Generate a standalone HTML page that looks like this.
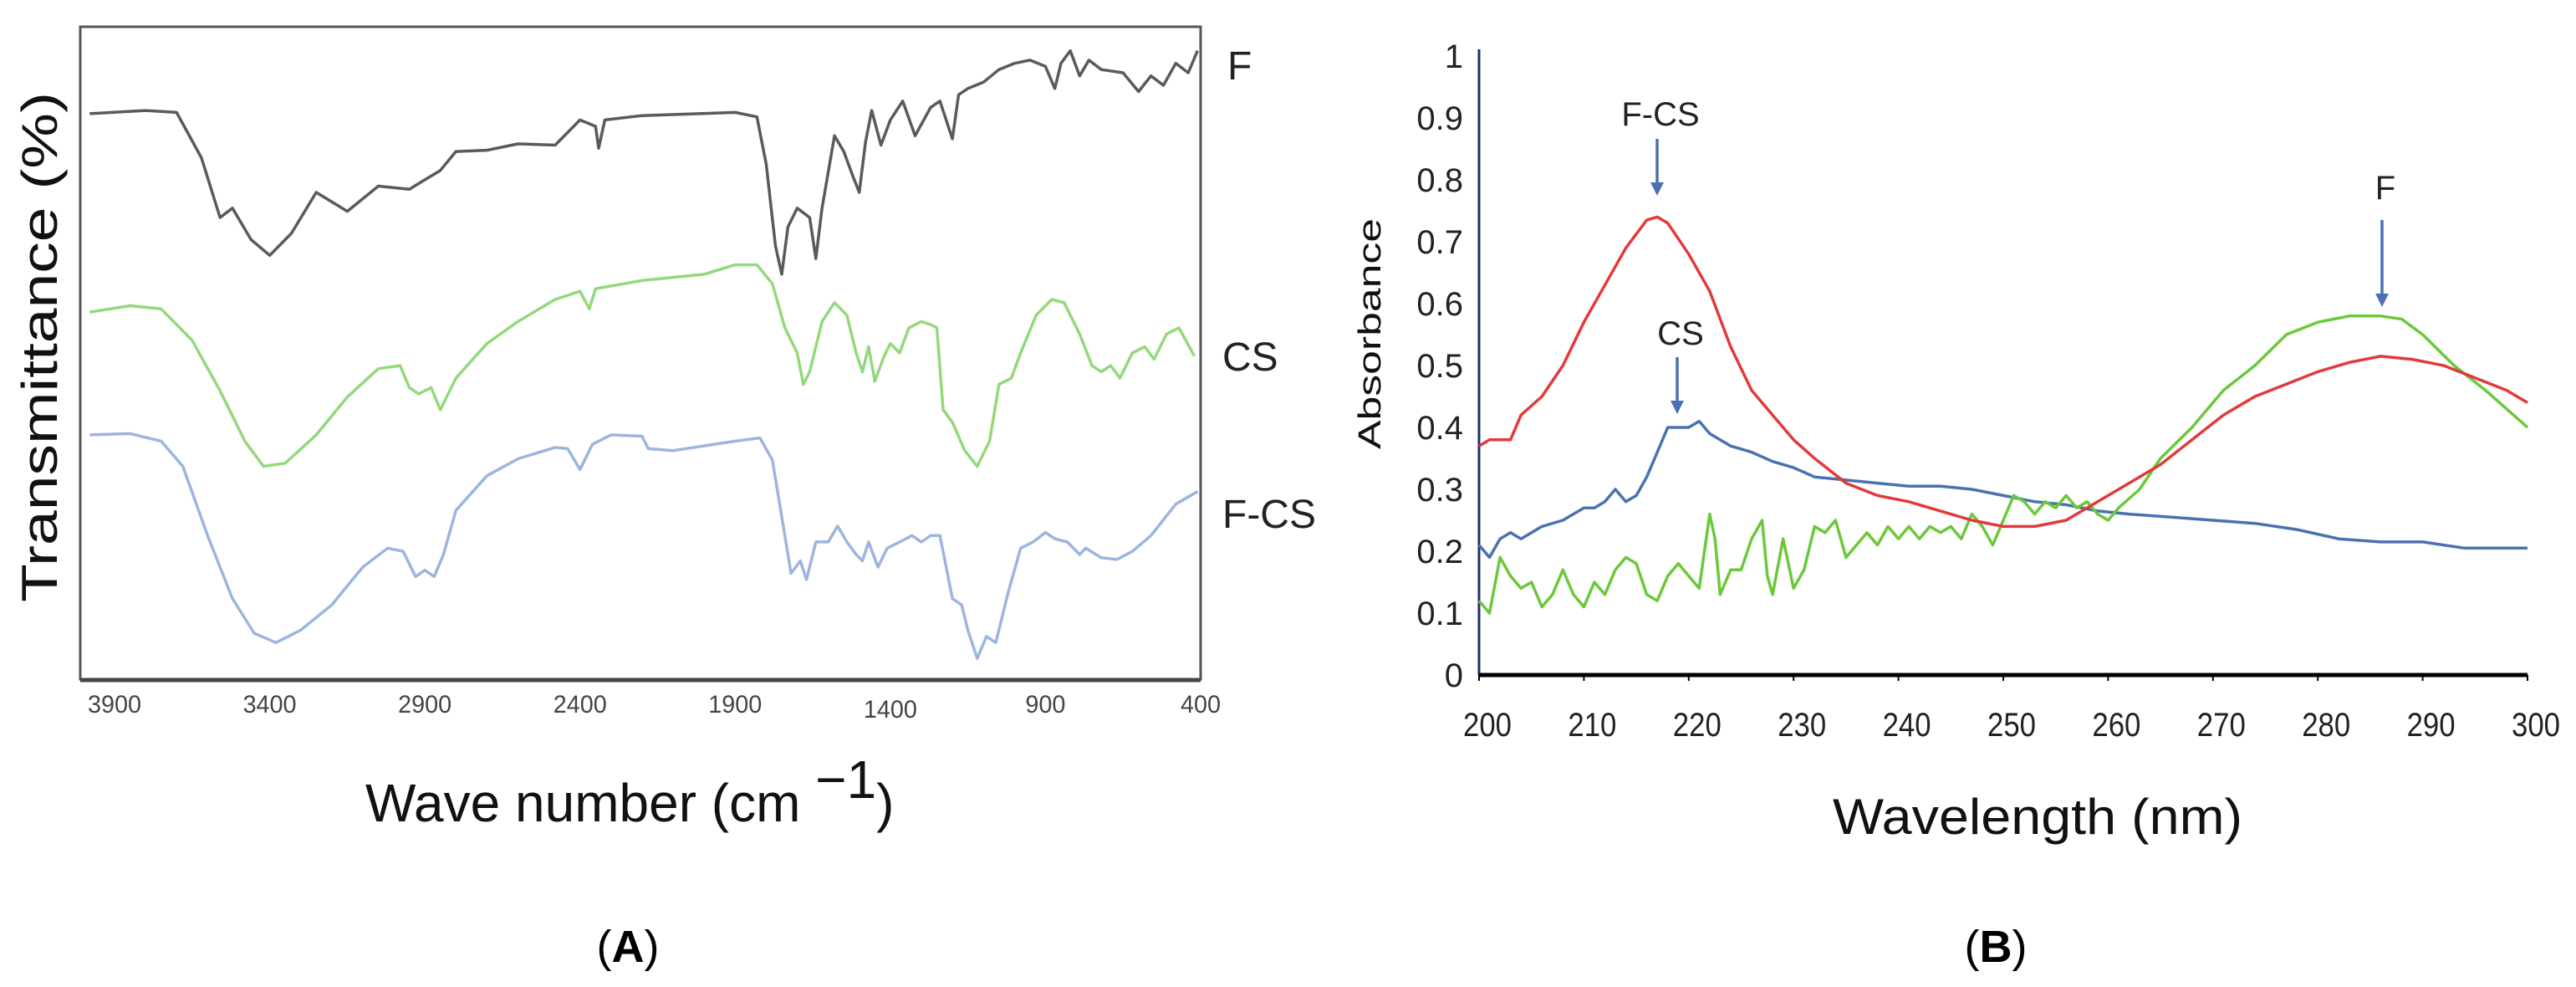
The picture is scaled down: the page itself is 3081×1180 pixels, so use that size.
<!DOCTYPE html>
<html><head><meta charset="utf-8"><style>
html,body{margin:0;padding:0;background:#fff;overflow:hidden}
svg{display:block}
text{font-family:"Liberation Sans Narrow","Liberation Sans",sans-serif}
</style></head><body>
<svg id="fig" width="3081" height="1180" viewBox="0 0 3081 1180" xmlns="http://www.w3.org/2000/svg">
<g id="pa"></g>
<g id="pb"></g>
</svg>
<script>
// ---------- Panel A data (FTIR) ----------
const ftirTicks=[3900,3400,2900,2400,1900,1400,900,400];
const fWn=[3980,3800,3700,3620,3560,3520,3460,3400,3330,3250,3150,3050,2950,2850,2800,2700,2600,2480,2400,2350,2340,2320,2200,1900,1830,1800,1770,1750,1730,1700,1660,1640,1620,1580,1550,1520,1500,1480,1460,1430,1400,1360,1320,1270,1240,1200,1180,1150,1100,1050,1000,950,900,870,850,820,790,760,720,650,600,560,520,480,440,410];
const fT=[89.8,90.3,90.0,82.8,73.3,74.8,69.8,67.3,70.8,77.3,74.3,78.3,77.8,80.8,83.8,84.0,85.0,84.8,88.8,87.8,84.3,88.8,89.5,90.0,89.3,81.8,68.8,64.3,71.8,74.8,73.3,66.8,74.8,86.3,83.8,79.8,77.3,85.3,90.3,84.8,88.8,91.8,86.3,90.8,91.8,85.8,92.8,93.8,94.8,96.8,97.8,98.3,97.3,93.8,97.8,99.8,95.8,98.3,96.8,96.3,93.3,95.8,94.3,97.8,96.3,99.8];
const csWn=[3980,3850,3750,3650,3560,3480,3420,3350,3250,3150,3050,2980,2950,2920,2880,2850,2800,2700,2600,2480,2400,2370,2350,2200,2000,1900,1830,1780,1740,1700,1680,1660,1620,1580,1540,1510,1490,1470,1450,1420,1400,1370,1340,1300,1270,1250,1230,1200,1160,1120,1080,1050,1010,980,930,880,840,790,750,720,690,660,620,580,550,510,470,420];
const csT=[58.3,59.3,58.8,53.8,45.8,37.8,33.8,34.3,38.8,44.8,49.3,49.8,46.3,45.3,46.3,42.8,47.8,53.3,56.8,60.3,61.6,58.8,62.0,63.3,64.3,65.8,65.8,62.8,55.8,51.8,46.8,48.8,56.8,59.8,57.8,51.8,48.8,52.8,47.3,51.3,53.3,51.8,55.8,56.8,56.3,55.8,42.8,40.8,36.3,33.8,37.8,46.8,47.8,51.8,57.8,60.3,59.8,54.8,49.8,48.8,49.8,47.8,51.8,52.8,50.8,54.8,55.8,51.3];
const fcsWn=[3980,3850,3750,3680,3600,3520,3450,3380,3300,3200,3100,3020,2970,2930,2900,2870,2840,2800,2700,2600,2480,2440,2400,2360,2300,2200,2180,2100,1900,1820,1780,1750,1720,1690,1670,1640,1600,1570,1540,1510,1490,1470,1440,1410,1370,1330,1300,1270,1240,1200,1170,1150,1120,1090,1060,1020,980,940,900,870,830,790,770,720,670,620,560,480,410];
const fcsT=[38.8,39.0,37.8,33.8,22.8,12.8,7.3,5.8,7.8,11.8,17.8,20.8,20.3,16.3,17.3,16.3,19.8,26.8,32.3,35.0,36.8,36.6,33.3,37.3,38.8,38.6,36.6,36.3,37.8,38.3,34.8,25.8,16.8,18.8,15.8,21.8,21.8,24.3,21.8,19.8,18.8,21.8,17.8,20.8,21.8,22.8,21.8,22.8,22.8,12.8,11.8,7.8,3.3,6.8,5.8,13.8,20.8,21.8,23.3,22.3,21.8,19.8,20.8,19.3,19.0,20.3,22.8,27.8,29.8];

// ---------- Panel B data (UV-Vis) ----------
const uvXTicks=[200,210,220,230,240,250,260,270,280,290,300];
const uvYTicks=[0,0.1,0.2,0.3,0.4,0.5,0.6,0.7,0.8,0.9,1];
const redX=[200,201,203,204,206,208,210,212,214,216,217,218,220,222,224,226,228,230,232,235,238,241,244,247,250,253,256,259,262,265,268,271,274,277,280,283,286,289,292,295,298,300];
const redY=[0.37,0.38,0.38,0.42,0.45,0.50,0.57,0.63,0.69,0.735,0.74,0.73,0.68,0.62,0.53,0.46,0.42,0.38,0.35,0.31,0.29,0.28,0.265,0.25,0.24,0.24,0.25,0.28,0.31,0.34,0.38,0.42,0.45,0.47,0.49,0.505,0.515,0.51,0.50,0.48,0.46,0.44];
const greenX=[200,201,202,203,204,205,206,207,208,209,210,211,212,213,214,215,216,217,218,219,220,221,222,222.5,223,224,225,226,227,227.5,228,229,230,231,232,233,234,235,236,237,238,239,240,241,242,243,244,245,246,247,248,249,250,251,252,253,254,255,256,257,258,259,260,261,263,265,268,271,274,277,280,283,286,288,290,293,296,300];
const greenY=[0.12,0.10,0.19,0.16,0.14,0.15,0.11,0.13,0.17,0.13,0.11,0.15,0.13,0.17,0.19,0.18,0.13,0.12,0.16,0.18,0.16,0.14,0.26,0.22,0.13,0.17,0.17,0.22,0.25,0.16,0.13,0.22,0.14,0.17,0.24,0.23,0.25,0.19,0.21,0.23,0.21,0.24,0.22,0.24,0.22,0.24,0.23,0.24,0.22,0.26,0.24,0.21,0.25,0.29,0.28,0.26,0.28,0.27,0.29,0.27,0.28,0.26,0.25,0.27,0.30,0.35,0.40,0.46,0.50,0.55,0.57,0.58,0.58,0.575,0.55,0.50,0.46,0.40];
const blueX=[200,201,202,203,204,206,208,210,211,212,213,214,215,216,217,218,219,220,221,222,224,226,228,230,232,235,238,241,244,247,250,253,256,259,262,266,270,274,278,282,286,290,294,297,300];
const blueY=[0.21,0.19,0.22,0.23,0.22,0.24,0.25,0.27,0.27,0.28,0.30,0.28,0.29,0.32,0.36,0.40,0.40,0.40,0.41,0.39,0.37,0.36,0.345,0.335,0.32,0.315,0.31,0.305,0.305,0.30,0.29,0.28,0.275,0.265,0.26,0.255,0.25,0.245,0.235,0.22,0.215,0.215,0.205,0.205,0.205];

const NS="http://www.w3.org/2000/svg";
function mk(parent,tag,attrs,txt){const e=document.createElementNS(NS,tag);for(const k in attrs)e.setAttribute(k,attrs[k]);if(txt!==undefined)e.textContent=txt;parent.appendChild(e);return e;}

// ---------- Panel A ----------
const pa=document.getElementById('pa');
const aL=96,aR=1436,aT=32,aB=812;
const ax=wn=>137+(3900-wn)*(1436-137)/3500;
const ay=t=>aB-t*(aB-aT)/103.6;
let frame=mk(pa,'rect',{x:aL,y:aT,width:aR-aL,height:aB-aT,fill:'none',stroke:'#555',"stroke-width":3});


let base=mk(pa,'line',{x1:aL,y1:aB+1,x2:aR,y2:aB+1,stroke:'#444',"stroke-width":5});


ftirTicks.forEach(v=>{
  const s=String(v);
  const t=mk(pa,'text',{x:ax(v),y:v===1400?858:852,"text-anchor":"middle","font-size":30,fill:"#444",textLength:String(s.length*16),lengthAdjust:"spacingAndGlyphs"},s);
  
  
});
function lineA(xs,ys,color,name){
  const d=xs.map((x,i)=>(i?'L':'M')+ax(x).toFixed(1)+','+ay(ys[i]).toFixed(1)).join('');
  const p=mk(pa,'path',{d:d,fill:'none',stroke:color,"stroke-width":3.5,"stroke-linejoin":"round"});
  
  
}
lineA(fWn,fT,'#5a5a5a','series-f-ftir');
lineA(csWn,csT,'#93d97c','series-cs-ftir');
lineA(fcsWn,fcsT,'#9db5de','series-fcs-ftir');
[['F',1468,95],['CS',1462,443],['F-CS',1462,631]].forEach(a=>{
  const t=mk(pa,'text',{x:a[1],y:a[2],"font-size":48,fill:"#222"},a[0]);
  
  
});
let xt=mk(pa,'text',{x:437,y:982,"font-size":64,fill:"#111"});


xt.innerHTML='Wave number (cm <tspan dy="-28">−1</tspan><tspan dy="28">)</tspan>';
let yt=mk(pa,'text',{x:0,y:0,"text-anchor":"middle","font-size":60,fill:"#111",textLength:"610",lengthAdjust:"spacingAndGlyphs",transform:"translate(68,415) rotate(-90)"},'Transmittance (%)');


let la=mk(pa,'text',{x:751,y:1150,"text-anchor":"middle","font-size":54,fill:"#000","font-family":"Liberation Serif, serif"});
la.innerHTML='(<tspan font-weight="bold">A</tspan>)';



// ---------- Panel B ----------
const pb=document.getElementById('pb');
const bL=1769,bR=3023,bT=67,bB=807;
const bx=v=>bL+(v-200)*(bR-bL)/100;
const by=v=>bB-v*(bB-bT);
let yax=mk(pb,'line',{x1:bL,y1:bT-8,x2:bL,y2:bB,stroke:'#1f2f6b',"stroke-width":3});


let xax=mk(pb,'line',{x1:bL,y1:bB,x2:bR,y2:bB,stroke:'#000',"stroke-width":5});


uvXTicks.forEach(v=>{
  const tk=mk(pb,'line',{x1:bx(v),y1:bB,x2:bx(v),y2:bB+7,stroke:'#000',"stroke-width":2});
  
  
  const t=mk(pb,'text',{x:bx(v)+10,y:880,"text-anchor":"middle","font-size":40,fill:"#222",textLength:"58",lengthAdjust:"spacingAndGlyphs"},String(v));
  
  
});
uvYTicks.forEach(v=>{
  const t=mk(pb,'text',{x:1750,y:by(v)+14,"text-anchor":"end","font-size":40,fill:"#222"},String(Math.round(v*10)/10));
  
  
});
function lineB(xs,ys,color,name){
  const d=xs.map((x,i)=>(i?'L':'M')+bx(x).toFixed(1)+','+by(ys[i]).toFixed(1)).join('');
  const p=mk(pb,'path',{d:d,fill:'none',stroke:color,"stroke-width":3.5,"stroke-linejoin":"round"});
  
  
}
lineB(blueX,blueY,'#4a72b0','series-cs-uv');
lineB(greenX,greenY,'#6cc83a','series-f-uv');
lineB(redX,redY,'#e23a3a','series-fcs-uv');
function arrow(x,y1,y2,lbl,ly,name){
  const g=mk(pb,'g',{});
  
  
  mk(g,'line',{x1:x,y1:y1,x2:x,y2:y2-12,stroke:'#4a72b0',"stroke-width":3.5});
  mk(g,'path',{d:`M${x-8},${y2-16}L${x+8},${y2-16}L${x},${y2}Z`,fill:'#4a72b0'});
  mk(g,'text',{x:x+4,y:ly,"text-anchor":"middle","font-size":40,fill:"#222"},lbl);
}
arrow(1982,166,234,'F-CS',150,'annotation-fcs');
arrow(2006,427,495,'CS',412,'annotation-cs');
arrow(2849,263,367,'F',238,'annotation-f');
let bxt=mk(pb,'text',{x:2437,y:997,"text-anchor":"middle","font-size":60,fill:"#111",textLength:"490",lengthAdjust:"spacingAndGlyphs"},'Wavelength (nm)');


let byt=mk(pb,'text',{x:0,y:0,"text-anchor":"middle","font-size":38,fill:"#111",textLength:"276",lengthAdjust:"spacingAndGlyphs",transform:"translate(1651,399) rotate(-90)"},'Absorbance');


let lb=mk(pb,'text',{x:2387,y:1150,"text-anchor":"middle","font-size":54,fill:"#000","font-family":"Liberation Serif, serif"});
lb.innerHTML='(<tspan font-weight="bold">B</tspan>)';


</script>
</body></html>
